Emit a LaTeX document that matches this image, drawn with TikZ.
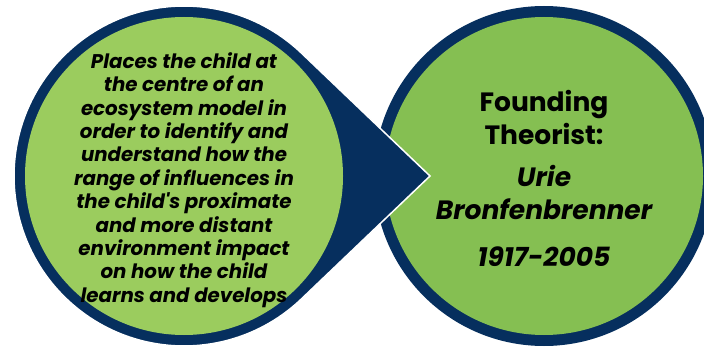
\documentclass[tikz,border=0pt]{standalone}
\usepackage{fontspec}
\setmainfont{Poppins}[Ligatures=TeXOff]
\usetikzlibrary{positioning}
\definecolor{navy}{RGB}{6,47,94}
\definecolor{lgreen}{RGB}{155,204,94}
\definecolor{rgreen}{RGB}{133,191,82}
\tikzset{
  smalltext/.style={align=center, inner sep=0pt, font=\fontsize{19.8}{23.4}\selectfont\bfseries\itshape},
  bigtext/.style={align=center, inner sep=0pt, font=\fontsize{26.5}{33}\selectfont\bfseries},
  bigitalic/.style={bigtext, font=\fontsize{26.5}{33}\selectfont\bfseries\itshape}
}

\begin{document}
\begin{tikzpicture}[x=1pt,y=1pt]
        \def\myrad{170}% outer radius of both circles
        \def\inrad{159}% radius of the green part
        \def\myang{46.3}% where the point meets the circle
        \useasboundingbox (0,0) rectangle (704,346);
        \clip (0,0) rectangle (704,346);
        % the centres and the tip
        \coordinate (L) at (184,170);
        \coordinate (R) at (544,170);
        \coordinate (T) at (430,170);
        % right circle
        \fill[navy] (R) circle [radius=\myrad];
        \fill[rgreen] (R) circle [radius=\inrad];
        % left circle with its point
        \draw[white, line width=1.5pt, fill=navy, line join=miter]
          (T) -- ([shift={(\myang:\myrad)}]L)
          arc [start angle=\myang, end angle=360-\myang, radius=\myrad] -- cycle;
        \fill[lgreen] (L) circle [radius=\inrad];
        % the texts
        \node[smalltext] (role) at (184,166) {Places the child at\\the centre of an\\ecosystem model in\\order to identify and\\understand how the\\range of influences in\\the child's proximate\\and more distant\\environment impact\\on how the child\\learns and develops};
        \node[bigtext] (founder) at (544,229) {Founding\\Theorist:};
        \node[bigitalic, below=21pt of founder] (theorist) {Urie\\Bronfenbrenner};
        \node[bigitalic, below=26pt of theorist] (years) {1917-2005};
\end{tikzpicture}
\end{document}
